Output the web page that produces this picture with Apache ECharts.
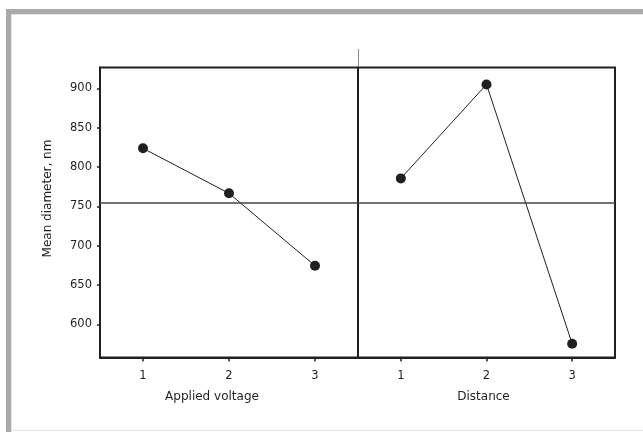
<!DOCTYPE html>
<html>
<head>
<meta charset="utf-8">
<script src="https://cdn.jsdelivr.net/npm/echarts@6/dist/echarts.min.js"></script>
<style>
html,body{margin:0;padding:0;background:#fff;}
#c{width:643px;height:432px;}
</style>
</head>
<body>
<div id="c"></div>
<script>
// ---- data ----
var levels = ['1', '2', '3'];
var factorNames = ['Applied voltage', 'Distance'];
var voltageMeans = [823.8, 766.6, 674.6];
var distanceMeans = [785.6, 905.0, 575.5];
var yTicks = [600, 650, 700, 750, 800, 850, 900];
var yMin = 558, yMax = 926.5;
var yTitle = 'Mean diameter, nm';

var all = voltageMeans.concat(distanceMeans);
var grandMean = all.reduce(function (a, b) { return a + b; }, 0) / all.length;

var ink = '#231f20';
var font = 'DejaVu Sans';

function xAxisCfg(idx, name, pad) {
  return {
    type: 'category', gridIndex: idx, data: levels, boundaryGap: true,
    name: name, nameLocation: 'middle', nameGap: 33,
    nameTextStyle: { fontFamily: font, fontSize: 12, color: ink, padding: pad },
    axisLine: { show: true, lineStyle: { color: ink, width: 2 } },
    axisTick: { show: true, alignWithLabel: true, length: 4, lineStyle: { color: ink, width: 1.5 } },
    axisLabel: { fontFamily: font, fontSize: 11.5, color: ink, margin: 13 },
    splitLine: { show: false }
  };
}

var markLine = {
  silent: true, symbol: 'none', label: { show: false },
  lineStyle: { type: 'solid', color: '#3e4744', width: 1.5 },
  data: [{ yAxis: grandMean }]
};

function seriesCfg(idx, values) {
  return {
    type: 'line', xAxisIndex: idx, yAxisIndex: idx, data: values,
    symbol: 'circle', symbolSize: 10, showSymbol: true,
    itemStyle: { color: ink },
    lineStyle: { color: ink, width: 1 },
    markLine: markLine, animation: false
  };
}

var chart = echarts.init(document.getElementById('c'), null, { renderer: 'canvas' });
chart.setOption({
  backgroundColor: '#ffffff',
  animation: false,
  grid: [
    { left: 100, top: 67.5, width: 258, height: 290, show: true, borderColor: ink, borderWidth: 2, backgroundColor: 'transparent' },
    { left: 358, top: 67.5, width: 257, height: 290, show: true, borderColor: ink, borderWidth: 2, backgroundColor: 'transparent' }
  ],
  xAxis: [xAxisCfg(0, factorNames[0], [0, 34, 0, 0]), xAxisCfg(1, factorNames[1], [0, 6, 0, 0])],
  yAxis: [
    {
      type: 'value', gridIndex: 0, min: yMin, max: yMax,
      axisLine: { show: true, lineStyle: { color: ink, width: 2 } },
      axisTick: { show: true, length: 3, customValues: yTicks, lineStyle: { color: ink, width: 1.5 } },
      axisLabel: { fontFamily: font, fontSize: 11.5, color: ink, margin: 8, customValues: yTicks },
      splitLine: { show: false }
    },
    { type: 'value', gridIndex: 1, min: yMin, max: yMax, show: false, splitLine: { show: false } }
  ],
  series: [seriesCfg(0, voltageMeans), seriesCfg(1, distanceMeans)],
  graphic: [
    { type: 'rect', shape: { x: 6, y: 9, width: 637, height: 5 }, style: { fill: '#a7a9ac' }, silent: true },
    { type: 'rect', shape: { x: 6, y: 9, width: 5, height: 423 }, style: { fill: '#a7a9ac' }, silent: true },
    { type: 'line', shape: { x1: 11, y1: 14.5, x2: 643, y2: 14.5 }, style: { stroke: '#e3e4e5', lineWidth: 1 }, silent: true },
    { type: 'line', shape: { x1: 11.5, y1: 14, x2: 11.5, y2: 432 }, style: { stroke: '#e3e4e5', lineWidth: 1 }, silent: true },
    { type: 'line', shape: { x1: 11, y1: 430.5, x2: 643, y2: 430.5 }, style: { stroke: '#e3e4e5', lineWidth: 1 }, silent: true },
    { type: 'line', shape: { x1: 358.5, y1: 49, x2: 358.5, y2: 67 }, style: { stroke: '#8c8c8c', lineWidth: 1 }, silent: true },
    {
      type: 'text', x: 48, y: 198.5, rotation: Math.PI / 2,
      style: { text: yTitle, fontFamily: font, fontSize: 12, fill: ink, align: 'center', verticalAlign: 'middle' },
      silent: true
    }
  ]
});
</script>
</body>
</html>
